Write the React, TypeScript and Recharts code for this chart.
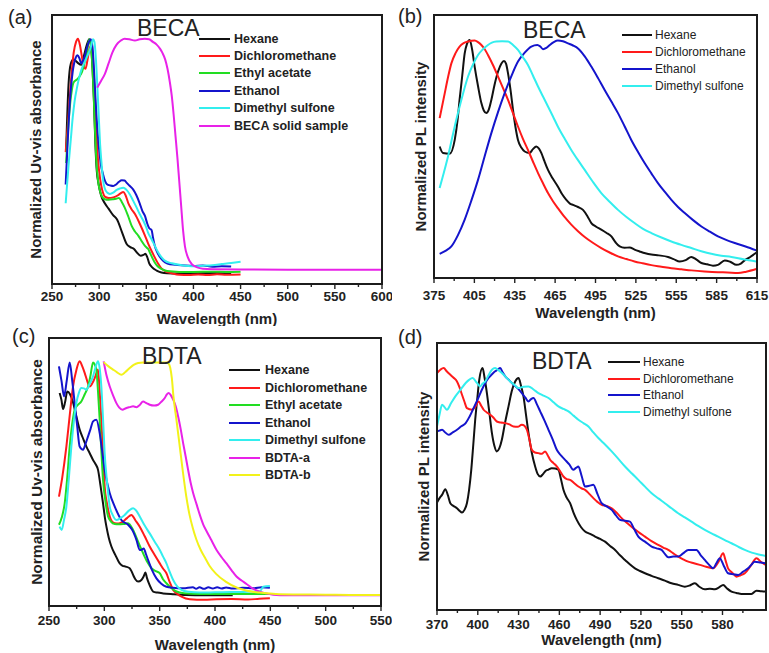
import React from "react";
import { LineChart, Line, XAxis, YAxis, Legend } from "recharts";

const FONT = '"Liberation Sans", Arial, Helvetica, sans-serif';
const INK = "#222";

// ---------- (a) BECA UV-vis ----------
const aHexane = [[265,.5],[267.5,.74],[270,.82],[272.5,.835],[275,.83],[278,.82],[281,.815],[284,.85],[287,.89],[289.5,.91],[291.5,.88],[293,.8],[294.5,.68],[296,.52],[297.5,.42],[299.5,.37],[302,.33],[306,.3],[310,.28],[315,.255],[319,.24],[324,.195],[329,.15],[333,.137],[337,.13],[340,.117],[344,.105],[347,.108],[349,.112],[351,.1],[353,.078],[356,.063],[361,.05],[366,.043],[372,.04],[385,.039],[400,.04],[415,.041],[430,.04],[440,.041]];
const aDichloromethane = [[264.5,.49],[267,.6],[270,.75],[273,.86],[275.5,.9],[277.5,.912],[279.5,.89],[281.5,.85],[283.5,.81],[285.5,.8],[287.5,.83],[289.5,.87],[291,.885],[292.5,.87],[294,.79],[295.6,.68],[297,.58],[298.4,.48],[300,.42],[302,.37],[304,.34],[306,.325],[310,.32],[315,.322],[320,.33],[323,.338],[325.6,.342],[328,.33],[331,.3],[334,.28],[338,.26],[343,.225],[348.6,.18],[352,.15],[357.4,.11],[362.7,.075],[366,.058],[370,.048],[377,.04],[385,.034],[395,.033],[405,.035],[415,.033],[425,.036],[435,.034],[450,.035]];
const aEthylAcetate = [[265,.45],[268,.62],[271,.72],[273,.75],[276.5,.76],[279,.77],[282,.79],[285,.83],[287.5,.87],[289.5,.91],[291,.895],[292.5,.83],[294,.72],[295.5,.58],[297,.46],[299,.38],[301,.345],[303,.325],[306,.315],[310,.313],[315,.315],[318,.317],[321,.32],[324,.305],[327,.285],[331,.25],[334.5,.216],[338,.195],[341.5,.18],[345,.16],[348.6,.142],[350.5,.135],[352,.13],[354,.115],[356,.1],[359,.08],[362,.066],[366,.056],[372,.048],[385,.045],[400,.045],[420,.046],[435,.045],[450,.046]];
const aEthanol = [[264.5,.37],[266.5,.52],[269,.68],[272,.79],[275,.84],[277,.85],[279,.84],[281,.82],[283,.83],[285,.85],[288,.89],[291,.91],[293,.88],[294.5,.8],[296,.7],[298,.58],[300,.5],[302,.44],[304,.41],[306,.385],[308,.372],[312,.366],[315,.364],[318,.37],[321,.38],[324,.386],[327,.385],[329,.377],[332,.366],[336,.352],[339.5,.33],[343,.3],[346,.27],[348.6,.253],[351,.225],[353,.208],[355.7,.2],[357,.175],[359,.142],[362,.115],[366,.093],[370,.08],[375,.073],[387,.07],[400,.067],[410,.069],[420,.064],[430,.066],[440,.065]];
const aDimethylSulfone = [[264.5,.3],[266,.37],[268,.46],[270,.54],[272,.62],[274,.68],[276.5,.73],[279,.77],[281.5,.8],[284,.82],[286.5,.84],[289,.86],[291.5,.885],[293.5,.91],[295,.9],[296.5,.84],[298,.74],[299.5,.63],[301,.52],[302.5,.45],[304,.39],[306,.355],[308.5,.34],[311.5,.335],[315,.34],[318.6,.35],[322,.355],[325.6,.358],[329,.35],[332.6,.333],[336,.31],[339.8,.284],[343,.26],[346.9,.235],[350,.21],[352,.19],[355,.17],[357.4,.154],[360,.135],[362.7,.117],[366,.1],[370,.086],[377,.077],[387.6,.07],[400,.066],[410,.068],[420,.07],[430,.074],[440,.078],[450,.083]];
const aSolid = [[298,.73],[302,.755],[306,.78],[310,.82],[314,.86],[318.5,.89],[323,.905],[327,.912],[332,.91],[338,.905],[343,.91],[348.5,.912],[353,.91],[357,.9],[361,.89],[364.5,.875],[367,.86],[370,.835],[372.5,.8],[375,.75],[377,.7],[379,.63],[381,.55],[383,.47],[385,.38],[387,.29],[389,.2],[391,.14],[394,.1],[398,.075],[404,.062],[410,.057],[420,.055],[450,.054],[500,.053],[550,.053],[600,.053]];

// ---------- (b) BECA PL ----------
const bHexane = [[379.2,.5],[381.7,.475],[386.6,.472],[390.4,.525],[392.5,.6],[394,.677],[396,.77],[397.8,.854],[399.5,.89],[401.5,.905],[403.3,.87],[405.2,.804],[407.7,.73],[410.2,.665],[412,.637],[413.9,.627],[415.7,.64],[417.6,.677],[420,.735],[422.6,.785],[425,.815],[427,.825],[428.5,.815],[430,.778],[432,.71],[433.7,.639],[435.5,.575],[437.4,.525],[440,.495],[442.4,.481],[446,.475],[448.5,.49],[451,.5],[453,.492],[454.8,.475],[457,.445],[459.7,.411],[463,.38],[467,.348],[470,.32],[473.3,.297],[476,.283],[478.3,.278],[482,.27],[485.7,.259],[489,.235],[491.9,.209],[495.5,.195],[499.3,.184],[503,.172],[506.8,.158],[510,.135],[513,.12],[516.5,.115],[520.4,.116],[524,.108],[527.8,.101],[532,.094],[536.5,.089],[542,.086],[548.9,.08],[553,.072],[557.6,.063],[562,.068],[566.2,.08],[570,.07],[573.7,.057],[578,.052],[582.3,.047],[586,.05],[591,.067],[595,.062],[599.7,.05],[603,.055],[605.8,.067],[610,.08],[613.3,.092],[615,.098]];
const bDichloromethane = [[379.2,.608],[383,.703],[385.5,.765],[387.9,.816],[391,.855],[394,.88],[397,.893],[400.3,.899],[405.2,.903],[407.7,.897],[410.2,.886],[412.7,.87],[415.1,.848],[418.8,.81],[422.6,.766],[426.3,.722],[430,.677],[433.7,.627],[437.4,.576],[441,.53],[444.8,.487],[448.5,.443],[452.3,.399],[456,.36],[459.7,.323],[463.4,.292],[467,.266],[472,.232],[477,.203],[482,.178],[487,.156],[493,.134],[499.3,.114],[505.5,.097],[511.7,.082],[518,.072],[524,.063],[530,.056],[536.5,.049],[544,.043],[551.4,.037],[558.8,.033],[566.2,.029],[576,.025],[586,.022],[593,.021],[600.9,.019],[607,.024],[614.5,.034]];
const bEthanol = [[379.2,.092],[383.5,.103],[387.9,.12],[392.8,.163],[397.8,.222],[402.8,.295],[407.7,.373],[412.6,.462],[417.6,.551],[422.5,.63],[427.5,.703],[432.5,.768],[437.4,.823],[442.4,.857],[447.3,.88],[451.8,.886],[454,.88],[456,.87],[458.5,.875],[461,.886],[464,.897],[467,.903],[470.8,.9],[474.6,.892],[478.3,.884],[482,.873],[487,.843],[491.9,.804],[496.9,.76],[501.8,.715],[506.8,.671],[511.7,.627],[516.7,.576],[521.6,.525],[526.5,.48],[531.5,.437],[536.5,.398],[541.4,.361],[546.4,.328],[551.4,.297],[556.3,.27],[561.3,.247],[567.5,.22],[573.7,.196],[580,.176],[586,.158],[592,.145],[598.5,.133],[606.5,.12],[614.5,.105]];
const bDimethylSulfone = [[379.2,.342],[382.3,.4],[385.4,.462],[389,.545],[392.8,.627],[396.5,.7],[400.3,.766],[404,.812],[407.7,.848],[411.4,.87],[415.1,.886],[418,.895],[421.3,.899],[425.6,.9],[430,.899],[433.7,.886],[437.4,.867],[441,.84],[444.8,.81],[448.5,.77],[452.3,.728],[456,.69],[459.7,.652],[463.4,.614],[467,.576],[472,.53],[477,.487],[482,.448],[487,.411],[493,.366],[499.3,.323],[505.5,.29],[511.7,.259],[518,.232],[524,.209],[530,.188],[536.5,.171],[544,.154],[551.4,.139],[558.8,.126],[566.2,.114],[573.6,.102],[581,.092],[588.5,.085],[596,.08],[605,.071],[614.5,.063]];

// ---------- (c) BDTA UV-vis ----------
const cHexane = [[259.6,.795],[261.2,.77],[262.7,.735],[264.5,.76],[266.5,.8],[269,.79],[271.7,.76],[274,.72],[277.7,.658],[280.8,.625],[283.8,.595],[286.8,.57],[289.8,.545],[292,.53],[294.3,.508],[296.5,.45],[298.8,.384],[300.5,.33],[301.9,.296],[304,.255],[306.4,.222],[310,.19],[313.9,.159],[316.5,.15],[319.3,.147],[322.9,.141],[324.5,.13],[326,.116],[328,.1],[330.5,.091],[333.5,.097],[335.5,.11],[337.1,.125],[338.5,.105],[340.2,.085],[342,.068],[344.1,.054],[348,.05],[353.1,.047],[362,.044],[374.2,.041],[390,.04],[405,.04],[416,.04]];
const cDichloromethane = [[259,.408],[262,.48],[265.7,.595],[268.7,.71],[271.7,.819],[274.7,.88],[277.7,.913],[280,.895],[282.3,.869],[284.5,.84],[286.8,.819],[289,.83],[291.3,.85],[293,.87],[294.3,.882],[295.8,.8],[297.3,.695],[298.8,.57],[300.3,.446],[302.5,.38],[304.9,.334],[307,.315],[309.4,.309],[313,.308],[316.9,.315],[320.5,.328],[324.5,.34],[328,.32],[332,.296],[336.5,.26],[341,.222],[345.5,.19],[350.1,.159],[353,.14],[356.1,.122],[359,.09],[362.2,.06],[366,.045],[369.7,.035],[377.2,.025],[390,.023],[401.4,.025],[415,.026],[430,.024],[440,.027],[449.6,.029]];
const cEthylAcetate = [[259,.303],[261.5,.33],[264.2,.384],[266.5,.48],[268.7,.595],[271,.68],[273.2,.732],[276,.75],[279.2,.763],[282.3,.79],[285.3,.819],[287.5,.86],[289.8,.909],[291.5,.9],[292.8,.882],[294.3,.8],[295.8,.695],[297.3,.58],[298.8,.471],[301,.39],[303.4,.334],[306,.315],[309.4,.306],[313,.305],[316.9,.306],[319,.307],[321.5,.309],[326,.284],[330.5,.24],[335,.197],[339,.163],[342.6,.141],[346.5,.13],[350.1,.122],[353,.1],[356.1,.085],[360.5,.067],[365.2,.054],[372,.048],[386.3,.045],[400,.045],[420,.045],[435,.045],[449.6,.045]];
const cEthanol = [[259,.894],[261.3,.84],[263.6,.782],[266,.84],[268.7,.909],[271,.84],[273.2,.757],[275.5,.67],[277.7,.595],[280.8,.583],[283,.605],[285.3,.633],[287.5,.66],[289.8,.689],[292.8,.695],[295.8,.645],[298,.58],[300.3,.508],[304.9,.421],[309.4,.371],[315.4,.321],[321.5,.303],[325,.285],[329,.247],[332,.209],[333.8,.21],[335.6,.215],[337.5,.195],[339.5,.172],[343,.135],[347.1,.103],[351.5,.083],[356.1,.072],[362,.068],[371.2,.066],[380,.07],[383,.064],[386,.07],[390,.064],[394,.07],[398,.065],[402,.07],[406,.065],[410,.069],[416,.065],[425,.068],[435,.066],[442,.07],[449.6,.068]];
const cDimethylSulfone = [[259.6,.296],[261.5,.284],[263.5,.32],[265.7,.371],[268,.48],[270.2,.595],[272.5,.69],[274.7,.757],[277,.795],[279.2,.813],[281.5,.812],[283.8,.807],[286.8,.83],[289.8,.857],[292,.89],[294.3,.913],[296,.88],[297.3,.819],[298.8,.7],[300.3,.57],[302.5,.46],[304.9,.371],[307.5,.34],[310.9,.321],[314.5,.328],[318.4,.34],[322,.355],[326,.365],[329,.355],[332,.334],[336.5,.3],[341,.271],[345.5,.24],[350.1,.209],[353,.185],[356.1,.159],[359,.128],[362.2,.097],[366,.072],[369.7,.06],[376,.053],[386.3,.05],[400,.051],[415,.052],[430,.053],[440.5,.054],[443.6,.072],[449.6,.075]];
const cBdtaA = [[299.4,.913],[302,.86],[304.9,.819],[308,.785],[310.9,.757],[313.5,.74],[316.3,.732],[319.5,.738],[322.9,.742],[326,.745],[329,.742],[332,.75],[335,.763],[338,.757],[341,.751],[345,.748],[348.6,.751],[351.5,.762],[354.6,.776],[356.5,.79],[358.2,.795],[360.3,.785],[362.2,.77],[364.5,.745],[366.7,.707],[369,.66],[371.2,.608],[373.5,.558],[375.7,.508],[378,.46],[380.3,.421],[383.3,.38],[386.3,.34],[389.3,.305],[392.3,.28],[396.8,.245],[401.4,.209],[406,.182],[410.4,.159],[415,.133],[419.4,.11],[424,.095],[428.5,.082],[433,.068],[437.5,.058],[445,.048],[452.6,.042],[465,.04],[476.7,.04],[500,.04],[525,.04],[550,.04]];
const cBdtaB = [[299.4,.91],[303.5,.895],[307.9,.882],[311.5,.872],[315.4,.863],[319,.873],[322.9,.888],[326.5,.9],[330.5,.907],[335,.909],[341,.909],[348,.909],[356.1,.909],[358,.905],[359.5,.89],[361,.85],[362.5,.78],[365,.7],[368,.6],[371,.5],[374,.41],[377,.34],[380,.29],[383,.25],[387,.21],[391,.18],[395,.15],[401,.12],[410,.09],[420,.068],[428,.058],[440,.05],[455,.045],[475,.043],[500,.042],[525,.041],[550,.041]];

// ---------- (d) BDTA PL ----------
const dHexane = [[370,.4025],[372,.42],[373.7,.431],[376.1,.4525],[378,.43],[379.8,.4],[382,.39],[384.7,.381],[386.5,.372],[388.4,.365],[390.2,.375],[392,.4],[393.6,.45],[395.2,.525],[396.7,.62],[398.1,.7125],[399.6,.79],[401.1,.8625],[403.5,.906],[405,.87],[406.7,.8125],[408.5,.74],[410.4,.6625],[412.2,.615],[414,.594],[415.8,.605],[417.7,.6375],[420,.7],[422.6,.7625],[425,.82],[427.5,.856],[430,.869],[431.8,.84],[433.6,.8],[435.5,.73],[437.3,.6625],[439.7,.59],[442.2,.5375],[444,.51],[446,.5],[447.8,.508],[449.5,.519],[452,.526],[454.4,.531],[457,.53],[459.3,.525],[461.2,.49],[463,.45],[465.5,.42],[467.9,.4],[470.4,.365],[472.8,.3375],[476,.31],[478.9,.294],[482.6,.285],[486.3,.275],[490,.266],[493.6,.256],[497.3,.24],[501,.225],[504.6,.205],[508.3,.1875],[512,.17],[515.6,.156],[519.3,.146],[523,.1375],[527.8,.128],[532.7,.119],[537.6,.11],[542.5,.1],[547.4,.094],[552.3,.0875],[556,.092],[559.7,.1],[563,.087],[567,.0775],[570.7,.08],[574.4,.0775],[577.5,.085],[580.5,.094],[583.5,.08],[586.6,.069],[590.3,.064],[594,.06],[597.6,.06],[601.3,.06],[605,.0725],[608.4,.07],[611.8,.069]];
const dDichloromethane = [[370,.8875],[372.5,.9],[374.9,.906],[377.3,.893],[379.8,.881],[382.2,.87],[384.7,.856],[386.5,.835],[388.4,.806],[390.2,.78],[392,.756],[395.7,.75],[398,.76],[400.6,.781],[402.5,.765],[404.3,.75],[406.7,.74],[409.2,.731],[411.6,.72],[414,.706],[417,.702],[420.2,.7],[423.2,.695],[426.3,.6875],[429.4,.686],[432.4,.694],[434.3,.69],[436.1,.675],[437.9,.64],[439.7,.6],[442,.59],[444.6,.5875],[447,.585],[449.5,.594],[451.4,.58],[453.2,.5625],[455.7,.55],[458.1,.5375],[460.5,.52],[463,.5],[465.5,.49],[467.9,.4875],[471,.475],[474,.4625],[476.5,.455],[478.9,.45],[482,.435],[485,.419],[488,.405],[491.1,.394],[494.8,.39],[498.5,.381],[502,.365],[505.8,.344],[510,.325],[514.4,.306],[518.7,.29],[523,.275],[527.8,.258],[532.7,.244],[536.4,.234],[540.1,.225],[543.8,.212],[547.4,.2],[551,.19],[554.8,.181],[559,.175],[563.3,.169],[568,.162],[573.1,.156],[577,.18],[580.5,.2125],[582.3,.185],[584.1,.156],[587.2,.14],[590.3,.125],[593.3,.13],[596.4,.1375],[600.7,.165],[605,.194],[608.4,.18],[611.8,.169]];
const dEthanol = [[370,.669],[371.8,.672],[373.7,.675],[376.1,.665],[378.6,.656],[381.6,.665],[384.7,.675],[387.9,.688],[391.1,.7],[394,.725],[396.9,.756],[400,.79],[403,.825],[405.5,.85],[407.9,.869],[410.3,.882],[412.8,.894],[414.6,.9],[416.5,.906],[418.3,.89],[420.2,.875],[423.2,.86],[426.3,.844],[429.4,.83],[432.4,.8125],[435,.795],[437.3,.781],[439.2,.79],[441,.794],[443.5,.77],[445.9,.744],[449,.71],[452,.675],[455,.64],[458.1,.6],[461,.58],[464.2,.5625],[467.3,.545],[470.3,.525],[472.2,.532],[474,.5375],[476.5,.5],[478.9,.4625],[482,.465],[485,.469],[488,.435],[491.1,.4],[494.8,.388],[498.5,.375],[501.5,.355],[504.6,.3375],[508.3,.334],[511.9,.331],[515,.303],[518.1,.275],[523,.256],[527.9,.2375],[531.5,.231],[535.2,.225],[537.6,.21],[540.1,.1975],[543.8,.2],[547.4,.2],[551,.212],[554.8,.225],[558,.225],[560.9,.225],[564,.205],[567,.1875],[570,.17],[573.1,.156],[575.5,.175],[578,.194],[581,.165],[584.1,.1375],[588,.134],[591.5,.131],[595,.143],[598.8,.156],[601.3,.17],[603.7,.181],[608,.178],[611.8,.175]];
const dDimethylSulfone = [[370,.6875],[371.8,.73],[373.7,.769],[375.5,.76],[377.3,.75],[380.4,.775],[383.5,.8],[387.3,.825],[391.1,.85],[393.6,.862],[396.2,.869],[399,.853],[401.8,.8375],[403.6,.848],[405.5,.856],[408,.88],[410.4,.9],[412.8,.906],[415.2,.898],[417.7,.8875],[420.8,.872],[423.8,.856],[427,.843],[430,.831],[433.6,.836],[437.3,.8375],[441,.826],[444.6,.8125],[448.3,.803],[452,.794],[455.7,.778],[459.3,.7625],[463,.753],[466.7,.744],[470.4,.728],[474,.7125],[477.7,.7],[481.4,.6875],[485,.665],[488.7,.644],[493.6,.62],[498.5,.594],[503.4,.566],[508.3,.5375],[513.2,.512],[518.1,.4875],[523,.462],[527.9,.4375],[532.8,.418],[537.6,.4],[542.5,.381],[547.4,.3625],[552.3,.347],[557.2,.331],[562.1,.315],[567,.3],[571.9,.287],[576.8,.275],[581.7,.262],[586.6,.25],[591.5,.237],[596.4,.225],[601.5,.215],[606.6,.208],[611.8,.2025]];

// ---------- axis ticks ----------
const uvMajor = [250, 300, 350, 400, 450, 500, 550, 600];
const uvMinor = [275, 325, 375, 425, 475, 525, 575];
const plBecaMajor = [375, 405, 435, 465, 495, 525, 555, 585, 615];
const plBecaMinor = [390, 420, 450, 480, 510, 540, 570, 600];
const plBdtaMajor = [370, 400, 430, 460, 490, 520, 550, 580];
const plBdtaMinor = [385, 415, 445, 475, 505, 535, 565, 595];

const COLORS = {
  black: "#111111",
  red: "#ff1a1a",
  green: "#22dd22",
  blue: "#1414cc",
  cyan: "#33eeee",
  magenta: "#e822e8",
  yellow: "#f2f21a",
};

type Pt = number[];
type Series = { name: string; color: string; points: Pt[] };

const toXY = (pts: Pt[]) => pts.map(([x, y]) => ({ x, y }));

function WaveTick(props: any) {
  const { x, y, payload, major, labelDy } = props;
  const isMajor = major.includes(payload.value);
  return (
    <g>
      <line x1={x} x2={x} y1={y} y2={y + (isMajor ? 5 : 3)} stroke={INK} strokeWidth={1.4} />
      {isMajor && (
        <text x={x} y={y + labelDy} textAnchor="middle" fontSize={13.5} fontWeight={700} fill={INK}>
          {payload.value}
        </text>
      )}
    </g>
  );
}

function SeriesLegend({ items, bold, lineW, gap, rowH, fontSize }: any) {
  return (
    <div style={{ fontFamily: FONT, fontSize, fontWeight: bold ? 700 : 400, color: INK }}>
      {items.map((s: Series) => (
        <div key={s.name} style={{ display: "flex", alignItems: "center", height: rowH, whiteSpace: "nowrap" }}>
          <span style={{ display: "inline-block", width: lineW, height: 2, background: s.color, marginRight: gap }} />
          <span>{s.name}</span>
        </div>
      ))}
    </div>
  );
}

function Panel(p: any) {
  // plot box, used for the frame around the plot area
  const fx = p.margin.left + 30;
  const fy = p.margin.top;
  const fw = p.width - p.margin.right - fx;
  const fh = p.height - p.xh - fy;
  return (
    <div style={{ position: "absolute", left: p.left, top: p.top, width: p.width, height: p.height }}>
      <LineChart width={p.width} height={p.height} margin={p.margin}>
        <XAxis
          type="number"
          dataKey="x"
          domain={p.domain}
          ticks={[...p.major, ...p.minor].sort((a: number, b: number) => a - b)}
          interval={0}
          allowDataOverflow
          height={p.xh}
          axisLine={false}
          tickLine={false}
          tickSize={0}
          tickMargin={0}
          tick={(t: any) => <WaveTick {...t} major={p.major} labelDy={p.labelDy} />}
          label={{
            value: "Wavelength (nm)",
            position: "insideBottom",
            offset: p.xLabelOffset,
            style: { fontSize: 15, fontWeight: 700, fill: INK },
          }}
        />
        <YAxis
          type="number"
          domain={[0, 1]}
          allowDataOverflow
          width={30}
          tick={false}
          tickLine={false}
          axisLine={false}
          label={{
            value: p.yLabel,
            angle: -90,
            position: "insideLeft",
            offset: p.yLabelOffset,
            style: { textAnchor: "middle", fontSize: p.yFont, fontWeight: 700, fill: INK },
          }}
        />
        {p.series.map((s: Series) => (
          <Line
            key={s.name}
            data={toXY(s.points)}
            dataKey="y"
            name={s.name}
            type="monotone"
            stroke={s.color}
            strokeWidth={2}
            dot={false}
            isAnimationActive={false}
          />
        ))}
        <Legend
          layout="vertical"
          align="center"
          verticalAlign="middle"
          wrapperStyle={{ left: p.legend.left, top: p.legend.top, width: "auto" }}
          content={() => <SeriesLegend items={p.series} {...p.legend} />}
        />
      </LineChart>
      <div
        style={{
          position: "absolute",
          left: fx - 1,
          top: fy - 1,
          width: fw + 2,
          height: fh + 2,
          boxSizing: "border-box",
          border: "2px solid #1c1c1c",
          zIndex: 10,
          pointerEvents: "none",
        }}
      />
      <div style={{ position: "absolute", left: p.tag.x, top: p.tag.y, fontSize: 20, lineHeight: "20px", color: INK, zIndex: 10 }}>
        {p.tag.text}
      </div>
      <div style={{ position: "absolute", left: p.title.x, top: p.title.y, fontSize: 23, lineHeight: "23px", color: INK, zIndex: 10 }}>
        {p.title.text}
      </div>
    </div>
  );
}

const seriesA: Series[] = [
  { name: "Hexane", color: COLORS.black, points: aHexane },
  { name: "Dichloromethane", color: COLORS.red, points: aDichloromethane },
  { name: "Ethyl acetate", color: COLORS.green, points: aEthylAcetate },
  { name: "Ethanol", color: COLORS.blue, points: aEthanol },
  { name: "Dimethyl sulfone", color: COLORS.cyan, points: aDimethylSulfone },
  { name: "BECA solid sample", color: COLORS.magenta, points: aSolid },
];
const seriesB: Series[] = [
  { name: "Hexane", color: COLORS.black, points: bHexane },
  { name: "Dichloromethane", color: COLORS.red, points: bDichloromethane },
  { name: "Ethanol", color: COLORS.blue, points: bEthanol },
  { name: "Dimethyl sulfone", color: COLORS.cyan, points: bDimethylSulfone },
];
const seriesC: Series[] = [
  { name: "Hexane", color: COLORS.black, points: cHexane },
  { name: "Dichloromethane", color: COLORS.red, points: cDichloromethane },
  { name: "Ethyl acetate", color: COLORS.green, points: cEthylAcetate },
  { name: "Ethanol", color: COLORS.blue, points: cEthanol },
  { name: "Dimethyl sulfone", color: COLORS.cyan, points: cDimethylSulfone },
  { name: "BDTA-a", color: COLORS.magenta, points: cBdtaA },
  { name: "BDTA-b", color: COLORS.yellow, points: cBdtaB },
];
const seriesD: Series[] = [
  { name: "Hexane", color: COLORS.black, points: dHexane },
  { name: "Dichloromethane", color: COLORS.red, points: dDichloromethane },
  { name: "Ethanol", color: COLORS.blue, points: dEthanol },
  { name: "Dimethyl sulfone", color: COLORS.cyan, points: dDimethylSulfone },
];

export default function App() {
  return (
    <div style={{ position: "absolute", left: 0, top: 0, width: 769, height: 653, background: "#fff", fontFamily: FONT, overflow: "hidden" }}>
      <Panel
        left={0} top={0} width={392} height={326}
        margin={{ top: 15, right: 10, left: 22, bottom: 0 }}
        xh={42} xLabelOffset={2} labelDy={17}
        domain={[250, 600]} major={uvMajor} minor={uvMinor}
        yLabel="Normalized Uv-vis absorbance" yLabelOffset={14} yFont={15}
        series={seriesA}
        legend={{ left: 199, top: 30, bold: true, lineW: 31, gap: 4, rowH: 17.4, fontSize: 12.5 }}
        tag={{ text: "(a)", x: 8, y: 7 }}
        title={{ text: "BECA", x: 137, y: 17 }}
      />
      <Panel
        left={390} top={0} width={379} height={326}
        margin={{ top: 15, right: 12, left: 14, bottom: 0 }}
        xh={48} xLabelOffset={8.5} labelDy={22}
        domain={[375, 615]} major={plBecaMajor} minor={plBecaMinor}
        yLabel="Normalized PL intensity" yLabelOffset={17} yFont={15}
        series={seriesB}
        legend={{ left: 232, top: 26.5, bold: false, lineW: 30, gap: 3, rowH: 17, fontSize: 12 }}
        tag={{ text: "(b)", x: 8, y: 6 }}
        title={{ text: "BECA", x: 133, y: 19 }}
      />
      <Panel
        left={0} top={326} width={392} height={327}
        margin={{ top: 12, right: 11, left: 19, bottom: 0 }}
        xh={47} xLabelOffset={3} labelDy={19}
        domain={[250, 550]} major={uvMajor.filter((v) => v <= 550)} minor={uvMinor.filter((v) => v < 550)}
        yLabel="Normalized Uv-vis absorbance" yLabelOffset={17} yFont={15.5}
        series={seriesC}
        legend={{ left: 229, top: 35.25, bold: true, lineW: 31, gap: 5, rowH: 17.5, fontSize: 12.5 }}
        tag={{ text: "(c)", x: 12, y: 0 }}
        title={{ text: "BDTA", x: 142, y: 19 }}
      />
      <Panel
        left={390} top={326} width={379} height={327}
        margin={{ top: 17, right: 3, left: 17, bottom: 0 }}
        xh={43} xLabelOffset={8.5} labelDy={19}
        domain={[370, 612]} major={plBdtaMajor} minor={plBdtaMinor}
        yLabel="Normalized PL intensity" yLabelOffset={17} yFont={15}
        series={seriesD}
        legend={{ left: 218, top: 27.6, bold: false, lineW: 32, gap: 3, rowH: 16.7, fontSize: 12 }}
        tag={{ text: "(d)", x: 8, y: 1 }}
        title={{ text: "BDTA", x: 142, y: 24 }}
      />
    </div>
  );
}
